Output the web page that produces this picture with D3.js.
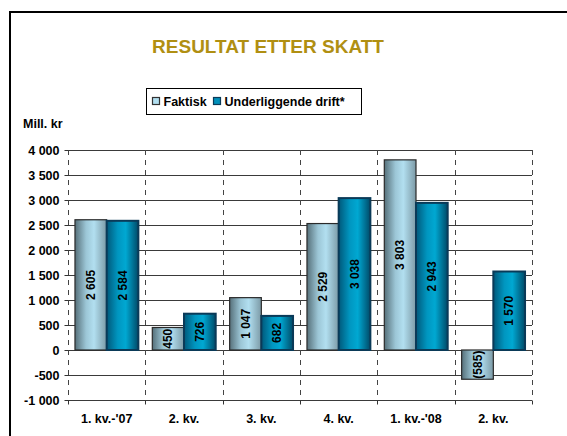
<!DOCTYPE html>
<html>
<head>
<meta charset="utf-8">
<script src="https://cdn.jsdelivr.net/npm/d3@7"></script>
<style>
    body { margin: 0; background: #fff; }
    svg { display: block; font-family: "Liberation Sans", Arial, sans-serif; }
    .grid line { stroke: #3a3a3a; stroke-width: 1; }
    .sep line { stroke: #444; stroke-width: 1; stroke-dasharray: 5,5; }
    .axis text { font-weight: bold; font-size: 12.5px; fill: #000; }
    .value { font-weight: bold; font-size: 12px; fill: #000; }
</style>
</head>
<body>
<div id="chart"></div>
<script>
(function () {
    "use strict";

    const categories = ["1. kv.-'07", "2. kv.", "3. kv.", "4. kv.", "1. kv.-'08", "2. kv."];
    const seriesNames = ["Faktisk", "Underliggende drift*"];
    const faktisk = [2605, 450, 1047, 2529, 3803, -585];
    const underliggende = [2584, 726, 682, 3038, 2943, 1570];
    const yTicks = [-1000, -500, 0, 500, 1000, 1500, 2000, 2500, 3000, 3500, 4000];

    function formatNumber(value) {
        const text = Math.abs(value).toString().replace(/\B(?=(\d{3})+(?!\d))/g, " ");
        return value < 0 ? "-" + text : text;
    }

    function formatLabel(value) {
        const text = formatNumber(Math.abs(value));
        return value < 0 ? `(${text})` : text;
    }

    function addGradients(defs) {
        const light = defs.append("linearGradient")
            .attr("id", "grad-light")
            .attr("x1", "0").attr("x2", "1").attr("y1", "0").attr("y2", "0");
        light.append("stop").attr("offset", "0%").attr("stop-color", "#56707a");
        light.append("stop").attr("offset", "35%").attr("stop-color", "#9cc6d6");
        light.append("stop").attr("offset", "60%").attr("stop-color", "#b2dff0");
        light.append("stop").attr("offset", "100%").attr("stop-color", "#7c9aa6");

        const dark = defs.append("linearGradient")
            .attr("id", "grad-dark")
            .attr("x1", "0").attr("x2", "1").attr("y1", "0").attr("y2", "0");
        dark.append("stop").attr("offset", "0%").attr("stop-color", "#00587a");
        dark.append("stop").attr("offset", "35%").attr("stop-color", "#0096c0");
        dark.append("stop").attr("offset", "60%").attr("stop-color", "#00a8d2");
        dark.append("stop").attr("offset", "100%").attr("stop-color", "#004a68");
    }

    const fills = ["url(#grad-light)", "url(#grad-dark)"];
    const strokes = ["#2a2a2a", "#0a3a58"];

    function drawChart(selection) {
        const width = 567;
        const height = 436;
        const plot = { left: 68, right: 532, top: 150, bottom: 400 };

        const svg = selection.append("svg")
            .attr("width", width)
            .attr("height", height);

        addGradients(svg.append("defs"));

        // outer frame, cut off on the right and bottom
        svg.append("rect")
            .attr("x", 10)
            .attr("y", 12)
            .attr("width", 600)
            .attr("height", 500)
            .attr("fill", "none")
            .attr("stroke", "#000")
            .attr("stroke-width", 2);

        svg.append("text")
            .attr("x", 268)
            .attr("y", 53)
            .attr("text-anchor", "middle")
            .style("font-size", "19px")
            .style("font-weight", "bold")
            .style("fill", "#b08f12")
            .text("RESULTAT ETTER SKATT");

        svg.append("text")
            .attr("x", 23)
            .attr("y", 128)
            .style("font-size", "12.5px")
            .style("font-weight", "bold")
            .text("Mill. kr");

        const index = d3.range(categories.length);

        const x0 = d3.scaleBand()
            .domain(index)
            .range([plot.left, plot.right]);

        const x1 = d3.scaleBand()
            .domain(seriesNames)
            .range([0, x0.bandwidth()])
            .paddingOuter(0.22);

        const y = d3.scaleLinear()
            .domain([-1000, 4000])
            .range([plot.bottom, plot.top]);

        // horizontal gridlines
        svg.append("g")
            .attr("class", "grid")
            .selectAll("line")
            .data(yTicks)
            .enter()
            .append("line")
            .attr("x1", plot.left)
            .attr("x2", plot.right)
            .attr("y1", d => Math.round(y(d)) + 0.5)
            .attr("y2", d => Math.round(y(d)) + 0.5);

        // dashed category separators
        const bounds = index.map(i => x0(i)).concat([plot.right]);
        svg.append("g")
            .attr("class", "sep")
            .selectAll("line")
            .data(bounds)
            .enter()
            .append("line")
            .attr("x1", d => Math.round(d) + 0.5)
            .attr("x2", d => Math.round(d) + 0.5)
            .attr("y1", plot.top)
            .attr("y2", plot.bottom);

        // y axis labels and ticks
        const yAxis = d3.axisLeft(y)
            .tickValues(yTicks)
            .tickFormat(formatNumber)
            .tickSize(4)
            .tickPadding(5);

        const yAxisGroup = svg.append("g")
            .attr("class", "axis")
            .attr("transform", `translate(${Math.round(plot.left) + 0.5},0)`)
            .call(yAxis);
        yAxisGroup.select(".domain").remove();
        yAxisGroup.selectAll(".tick line").attr("stroke", "#333");

        // x axis labels and ticks at separators
        const xAxisGroup = svg.append("g")
            .attr("class", "axis")
            .attr("transform", `translate(0,${Math.round(plot.bottom) + 0.5})`);

        xAxisGroup.selectAll("line")
            .data(bounds)
            .enter()
            .append("line")
            .attr("x1", d => Math.round(d) + 0.5)
            .attr("x2", d => Math.round(d) + 0.5)
            .attr("y1", 0)
            .attr("y2", 4)
            .attr("stroke", "#333");

        xAxisGroup.selectAll("text")
            .data(index)
            .enter()
            .append("text")
            .attr("x", i => x0(i) + x0.bandwidth() / 2)
            .attr("y", 22)
            .attr("text-anchor", "middle")
            .text(i => categories[i]);

        // bars
        const series = [faktisk, underliggende];
        const bars = svg.append("g").attr("class", "bars");

        series.forEach((values, i) => {
            const group = bars.append("g");
            group.selectAll("rect")
                .data(values)
                .enter()
                .append("rect")
                .attr("x", (d, j) => x0(j) + x1(seriesNames[i]))
                .attr("y", d => y(Math.max(0, d)))
                .attr("width", x1.bandwidth())
                .attr("height", d => Math.abs(y(d) - y(0)))
                .attr("fill", fills[i])
                .attr("stroke", strokes[i])
                .attr("stroke-width", i === 0 ? 1.2 : 2);

            group.selectAll("text")
                .data(values)
                .enter()
                .append("text")
                .attr("class", "value")
                .attr("transform", (d, j) => {
                    const cx = x0(j) + x1(seriesNames[i]) + x1.bandwidth() / 2;
                    const cy = (y(d) + y(0)) / 2;
                    return `translate(${cx},${cy}) rotate(-90)`;
                })
                .attr("text-anchor", "middle")
                .attr("dy", "0.35em")
                .text(formatLabel);
        });

        // legend
        const legend = svg.append("g")
            .attr("transform", "translate(146.5,88.5)");

        legend.append("rect")
            .attr("width", 215)
            .attr("height", 26)
            .attr("fill", "#fff")
            .attr("stroke", "#000")
            .attr("stroke-width", 1);

        const legendItems = [
            { x: 6, name: seriesNames[0], fill: "#b2dff0", stroke: "#333" },
            { x: 67, name: seriesNames[1], fill: "#0090ba", stroke: "#0a3a58" }
        ];

        legendItems.forEach(item => {
            legend.append("rect")
                .attr("x", item.x)
                .attr("y", 9)
                .attr("width", 7)
                .attr("height", 7)
                .attr("fill", item.fill)
                .attr("stroke", item.stroke)
                .attr("stroke-width", 1.2);
            legend.append("text")
                .attr("x", item.x + 11)
                .attr("y", 17)
                .style("font-size", "12.5px")
                .style("font-weight", "bold")
                .text(item.name);
        });
    }

    d3.select("#chart").call(drawChart);
}());
</script>
</body>
</html>
